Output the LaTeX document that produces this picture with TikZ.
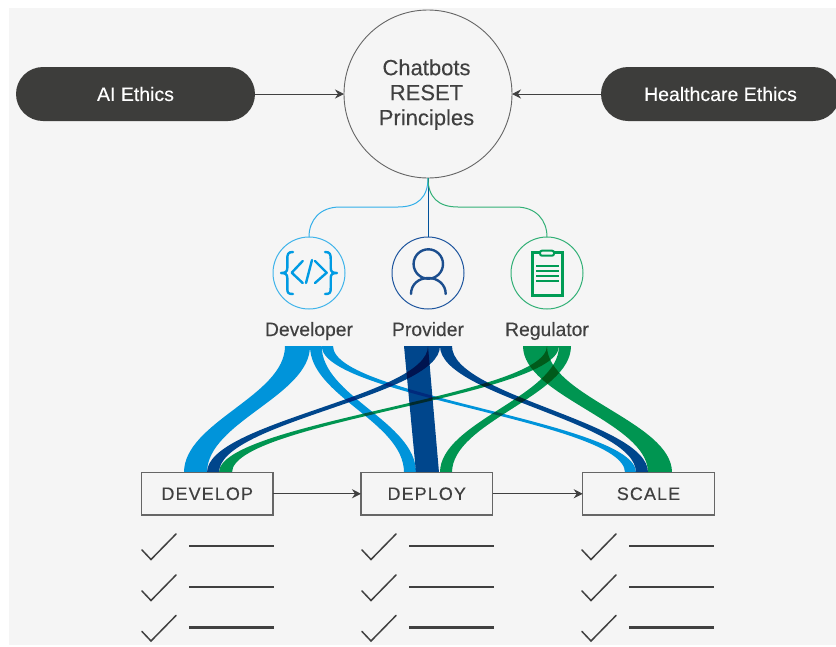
\documentclass[tikz,border=0pt]{standalone}
\usepackage{fontspec}
\setmainfont[FakeBold=0.25]{Liberation Sans}
\newfontfamily\spaced[LetterSpace=6,FakeBold=0.25]{Liberation Sans}
\usetikzlibrary{arrows.meta}
\definecolor{bgc}{HTML}{F5F5F5}
\definecolor{ink}{HTML}{404040}
\definecolor{pillc}{HTML}{3D3D3B}
\definecolor{lblue}{HTML}{009BE3}
\definecolor{dblue}{HTML}{004992}
\definecolor{rgreen}{HTML}{009C55}
\definecolor{pblue}{HTML}{1F569E}
\newcommand{\ribbon}[5]{%
  \fill[#1,blend mode=multiply] (#2,346) .. controls (#2,396) and (#4,422) .. (#4,472.5)
    -- (#5,472.5) .. controls (#5,422) and (#3,396) .. (#3,346) -- cycle;}
\newcommand{\tick}[2]{%
  \draw[ink,line width=1.5pt,line cap=round] (#1+1,#2+4) -- (#1+10,#2+13.5) -- (#1+35,#2-12);
  \draw[ink,line width=2.4pt] (#1+48,#2) -- (#1+133,#2);}
\tikzset{
  pill/.style={rounded corners=27pt,fill=pillc,text=white,minimum width=239pt,minimum height=54pt,inner sep=0pt,outer sep=0pt,font=\fontsize{19.5}{22}\selectfont},
  hub/.style={circle,draw=ink!80,line width=0.9pt,minimum size=168pt,inner sep=0pt,outer sep=0pt},
  hublabel/.style={align=center,inner sep=0pt,text=ink,font=\fontsize{22}{25}\selectfont},
  role/.style={circle,line width=1pt,minimum size=72pt,inner sep=0pt,outer sep=0pt},
  rolelabel/.style={text=ink,inner sep=0pt,anchor=base,font=\fontsize{19.3}{22}\selectfont},
  stagebox/.style={draw=ink!80,line width=1.1pt,minimum width=131.5pt,minimum height=42.5pt,inner sep=0pt,outer sep=0pt,text=ink,font=\fontsize{18}{20}\spaced},
  flow/.style={ink,line width=1pt,-{Stealth[length=9pt,width=9pt]}},
  icon/.style={line width=2.4pt,line cap=round,line join=round}
}
\begin{document}
\begin{tikzpicture}[x=1pt,y=-1pt]
\useasboundingbox (0,0) rectangle (836,646);
\fill[white] (0,0) rectangle (836,646);
\fill[bgc] (9,8) rectangle (836,645);
% ribbons
\ribbon{lblue}{285}{310}{184}{207}
\ribbon{lblue}{310}{321.7}{404}{416}
\ribbon{lblue}{321.7}{333}{625}{636}
\fill[dblue,blend mode=multiply] (404,346) -- (416,472.5) -- (439,472.5) -- (428,346) -- cycle;
\ribbon{dblue}{428}{440}{207}{219}
\ribbon{dblue}{440}{452}{636}{648}
\ribbon{rgreen}{523}{547}{648}{672}
\ribbon{rgreen}{547}{559}{219}{232}
\ribbon{rgreen}{559}{571}{440}{452}
% top row
\node[hub] (hubc) at (428,94) {};
\node[hublabel] (hubt) at (426.5,94.5) {Chatbots\\RESET\\Principles};
\node[pill] (ai) at (135.5,94) {AI Ethics};
\begin{scope}
\clip (0,0) rectangle (836,646);
\node[pill] (hc) at (720.5,94) {Healthcare Ethics};
\end{scope}
\draw[flow] (ai.east) -- (hubc.west);
\draw[flow] (hc.west) -- (hubc.east);
% roles
\node[role,draw=lblue!75] (dev) at (309,273) {};
\node[role,draw=pblue] (prov) at (428,273) {};
\node[role,draw=rgreen!80] (reg) at (547,273) {};
\node[rolelabel] (devl) at (309,336) {Developer};
\node[rolelabel] (provl) at (428,336) {Provider};
\node[rolelabel] (regl) at (547,336) {Regulator};
\draw[lblue!80,line width=1pt] (hubc.south) .. controls (428,197) and (418,207) .. (398,207) -- (340,207) .. controls (320,207) and (309,220) .. (dev.north);
\draw[dblue!90!lblue,line width=1pt] (hubc.south) -- (prov.north);
\draw[rgreen!80,line width=1pt] (hubc.south) .. controls (428,197) and (438,207) .. (458,207) -- (516,207) .. controls (536,207) and (547,220) .. (reg.north);
% code icon
\begin{scope}[icon,lblue]
\draw (293,252) .. controls (288,252) and (287.3,254) .. (287.3,259) -- (287.3,268) .. controls (287.3,272) and (285,273) .. (281,273) .. controls (285,273) and (287.3,274) .. (287.3,278) -- (287.3,288) .. controls (287.3,293) and (288,294) .. (293,294);
\draw (325,252) .. controls (330,252) and (330.7,254) .. (330.7,259) -- (330.7,268) .. controls (330.7,272) and (333,273) .. (337,273) .. controls (333,273) and (330.7,274) .. (330.7,278) -- (330.7,288) .. controls (330.7,293) and (330,294) .. (325,294);
\draw (302.7,261) -- (291.7,272.7) -- (302.7,283);
\draw (315,261) -- (326.7,272.7) -- (315,283);
\draw (312,260) -- (306,283);
\end{scope}
% person icon
\begin{scope}[icon,pblue!90!black]
\draw (428.3,264) circle[radius=14.7];
\draw (411,294) .. controls (411,284.5) and (418.5,278) .. (428.3,278) .. controls (438,278) and (445.7,284.5) .. (445.7,294);
\end{scope}
% clipboard icon
\begin{scope}[rgreen]
\draw[line width=3pt] (532.3,252.3) rectangle (562.3,295.7);
\draw[line width=2pt,fill=bgc,rounded corners=2pt] (540,250.7) rectangle (554,255.7);
\foreach \yy in {266,271,276,281}{\draw[line width=2pt] (536,\yy) -- (558.5,\yy);}
\end{scope}
% stages
\node[stagebox] (s1) at (207.25,493.75) {DEVELOP};
\node[stagebox] (s2) at (426.75,493.75) {DEPLOY};
\node[stagebox] (s3) at (648.5,493.75) {SCALE};
\draw[flow] (s1) -- (s2);
\draw[flow] (s2) -- (s3);
% checklists
\foreach \cx in {141,361,581}{
  \tick{\cx}{546}
  \tick{\cx}{587}
  \tick{\cx}{627.5}
}
\end{tikzpicture}
\end{document}
